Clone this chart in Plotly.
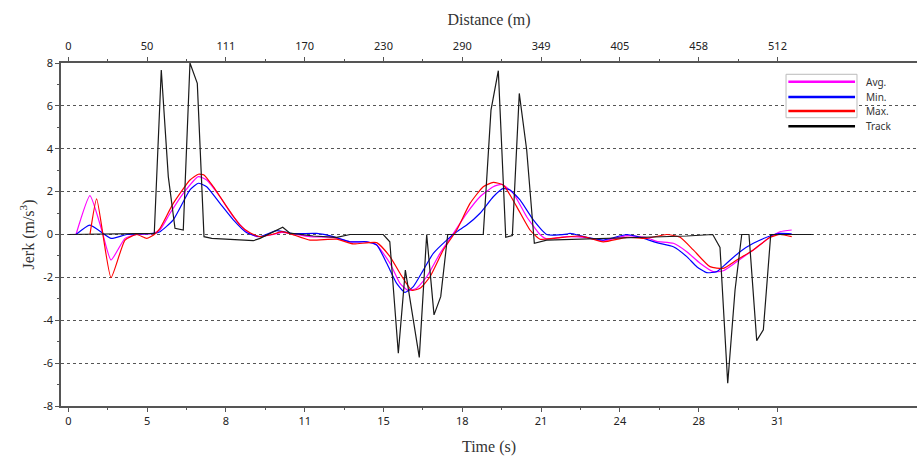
import plotly.graph_objects as go

# ---- axis labels ----
time_ticks = [0, 10, 20, 30, 40, 50, 60, 70, 80, 90]
time_labels = ["0", "5", "8", "11", "15", "18", "21", "24", "28", "31"]
dist_labels = ["0", "50", "111", "170", "230", "290", "349", "405", "458", "512"]
minor_ticks = [5, 15, 25, 35, 45, 55, 65, 75, 85]
jerk_ticks = [-8, -6, -4, -2, 0, 2, 4, 6, 8]
jerk_labels = ["-8", "-6", "-4", "-2", "0", "2", "4", "6", "8"]

# ---- Track (black) ----
track_x = [0.0, 10.91, 11.80, 12.69, 13.54, 14.59, 15.44, 16.37, 17.22, 18.20, 23.48, 24.33,
           27.21, 28.13, 31.09, 34.06, 35.75, 39.97, 40.80, 41.88, 42.77, 44.54, 45.48,
           46.41, 47.26, 48.15, 52.66, 53.64, 54.57, 55.51, 56.35, 57.23, 58.17, 59.14,
           60.71, 64.94, 70.01, 75.09, 78.48, 81.78, 82.70, 83.68, 84.61, 85.46, 86.38,
           87.36, 88.20, 89.14, 94.54]
track_y = [0.0, 0.05, 7.67, 2.7, 0.29, 0.21, 8.0, 7.05, -0.1, -0.18, -0.29, -0.18,
           0.34, 0.06, -0.07, -0.13, 0.0, 0.0, -0.34, -5.54, -1.66, -5.73, 0.0,
           -3.75, -2.9, 0.0, 0.0, 5.8, 7.64, -0.13, -0.05, 6.58, 3.94, -0.41,
           -0.26, -0.22, -0.16, -0.1, -0.07, 0.0, -0.6, -6.94, -2.59, 0.0, 0.0,
           -4.95, -4.45, 0.0, 0.0]

# ---- Avg. (magenta) ----
avg_x = [0.98, 2.75, 4.24, 5.42, 7.20, 8.68, 10.79, 11.64, 12.91, 14.59, 16.50, 17.56,
         19.25, 20.94, 22.64, 23.91, 26.02, 27.12, 28.55, 30.67, 33.63, 35.75, 37.87,
         39.14, 40.82, 42.09, 43.15, 44.21, 45.48, 47.17, 48.86, 50.56, 52.25, 53.93,
         55.00, 56.47, 58.17, 59.86, 60.71, 63.25, 65.79, 67.89, 70.86, 73.40, 74.67,
         76.78, 78.48, 80.17, 81.85, 83.12, 84.82, 86.93, 89.05, 90.32, 91.80]
avg_y = [0.0, 1.81, 0.21, -1.19, -0.18, 0.0, 0.05, 0.22, 0.99, 1.92, 2.7, 2.54,
         1.76, 0.83, 0.13, -0.1, 0.0, 0.1, 0.02, -0.1, -0.14, -0.34, -0.34,
         -0.49, -1.34, -2.28, -2.62, -2.51, -1.97, -0.88, 0.05, 0.99, 1.76, 2.23,
         2.34, 1.92, 0.83, 0.0, -0.21, -0.1, -0.15, -0.3, -0.05, -0.15, -0.32,
         -0.41, -0.8, -1.34, -1.73, -1.69, -1.27, -0.72, -0.13, 0.13, 0.21]

# ---- Min. (blue) ----
min_x = [0.98, 2.75, 5.42, 7.41, 10.79, 11.64, 13.32, 15.44, 16.50, 17.56, 19.25, 20.94,
         22.64, 24.33, 26.45, 28.55, 31.52, 33.63, 35.75, 37.87, 39.14, 40.41, 41.67,
         42.73, 43.78, 45.05, 46.32, 48.02, 49.29, 50.56, 52.25, 53.93, 55.20, 56.05,
         57.32, 59.01, 60.71, 63.25, 63.67, 65.79, 67.89, 70.86, 72.55, 74.67, 76.78,
         78.48, 79.75, 81.02, 82.29, 83.55, 85.24, 86.93, 89.05, 90.32, 91.80]
min_y = [0.0, 0.44, -0.18, 0.0, 0.05, 0.13, 0.68, 2.08, 2.39, 2.23, 1.45, 0.68,
         0.08, -0.1, 0.18, 0.04, 0.05, -0.1, -0.34, -0.34, -0.49, -1.34, -2.28,
         -2.7, -2.43, -1.66, -0.88, -0.26, 0.13, 0.44, 0.99, 1.76, 2.15, 2.08,
         1.61, 0.68, 0.0, 0.02, 0.05, -0.13, -0.26, 0.0, -0.13, -0.38, -0.57,
         -1.03, -1.5, -1.78, -1.73, -1.34, -0.8, -0.41, -0.07, 0.05, 0.03]

# ---- Max. (red) ----
max_x = [2.75, 3.60, 5.42, 7.20, 8.68, 9.95, 10.91, 11.64, 13.32, 15.44, 16.50, 17.22,
         18.40, 20.10, 21.79, 23.06, 24.33, 26.02, 27.08, 28.13, 30.67, 34.06, 36.17,
         39.14, 40.82, 42.09, 43.58, 44.63, 45.90, 47.59, 49.29, 50.98, 52.66, 53.93,
         55.20, 56.90, 58.59, 59.86, 61.55, 64.52, 65.79, 67.89, 70.86, 73.40, 75.94,
         77.64, 79.31, 81.43, 83.12, 84.82, 86.93, 89.05, 90.32, 91.80]
max_y = [0.0, 1.66, -2.01, -0.26, 0.0, -0.18, 0.0, 0.29, 1.45, 2.54, 2.81, 2.78,
         2.23, 1.3, 0.44, 0.08, -0.1, 0.02, 0.13, 0.04, -0.26, -0.22, -0.44,
         -0.38, -1.03, -1.81, -2.6, -2.51, -1.97, -0.72, 0.21, 1.45, 2.23, 2.43,
         2.31, 1.3, 0.21, -0.22, -0.18, -0.07, -0.13, -0.34, -0.13, -0.18, 0.0,
         -0.13, -0.72, -1.5, -1.58, -1.19, -0.72, -0.13, 0.0, -0.1]

X_RANGE = [-0.926, 107.7]

fig = go.Figure()
# Track drawn on the top (distance) axis, which shares the same range as the time axis
fig.add_trace(go.Scatter(x=track_x, y=track_y, mode="lines", name="Track", xaxis="x2",
                         line=dict(color="#1a1a1a", width=1.2), showlegend=False))
fig.add_trace(go.Scatter(x=avg_x, y=avg_y, mode="lines", name="Avg.",
                         line=dict(color="#ff00ff", width=1.2, shape="spline", smoothing=0.5),
                         showlegend=False))
fig.add_trace(go.Scatter(x=min_x, y=min_y, mode="lines", name="Min.",
                         line=dict(color="#0000ff", width=1.2, shape="spline", smoothing=0.5),
                         showlegend=False))
fig.add_trace(go.Scatter(x=max_x, y=max_y, mode="lines", name="Max.",
                         line=dict(color="#ff0000", width=1.2, shape="spline", smoothing=0.5),
                         showlegend=False))

tickfont = dict(family="Noto Sans", size=11, color="#222")
titlefont = dict(family="Liberation Serif", size=16, color="#333")
axis_line = dict(showline=True, linecolor="#555", linewidth=1.5, automargin=False)

fig.update_layout(
    width=917, height=457,
    margin=dict(l=61, r=0, t=63, b=51),
    paper_bgcolor="white", plot_bgcolor="white",
    xaxis=dict(range=X_RANGE, tickmode="array", tickvals=time_ticks, ticktext=time_labels,
               ticks="outside", ticklen=4, tickcolor="#555", tickfont=tickfont,
               showgrid=False, zeroline=False,
               minor=dict(tickmode="array", tickvals=minor_ticks, ticks="outside",
                          ticklen=2, tickcolor="#555", showgrid=False),
               title=dict(text="Time (s)", font=titlefont, standoff=14),
               **axis_line),
    xaxis2=dict(range=X_RANGE, overlaying="x", side="top", anchor="y",
                tickmode="array", tickvals=time_ticks, ticktext=dist_labels,
                ticks="outside", ticklen=4, tickcolor="#555", tickfont=tickfont,
                ticklabelstandoff=3,
                showgrid=False, zeroline=False,
                minor=dict(tickmode="array", tickvals=minor_ticks, ticks="outside",
                           ticklen=2, tickcolor="#555", showgrid=False),
                title=dict(text="Distance (m)", font=titlefont, standoff=8),
                **axis_line),
    yaxis=dict(range=[-8, 8], tickmode="array", tickvals=jerk_ticks, ticktext=jerk_labels,
               ticks="outside", ticklen=4, tickcolor="#555", tickfont=tickfont,
               showgrid=True, gridcolor="#555", griddash="dot", gridwidth=1,
               zeroline=False,
               minor=dict(tickmode="linear", tick0=-7, dtick=2, ticks="outside",
                          ticklen=2, tickcolor="#555", showgrid=False),
               title=dict(text="Jerk (m/s<sup>3</sup>)", font=titlefont, standoff=5),
               **axis_line),
)

# ---- manual legend (long line samples, box around the first three entries) ----
legend_items = [("Avg.", "#ff00ff", 0.9455), ("Min.", "#0000ff", 0.9009),
                ("Max.", "#ff0000", 0.8601), ("Track", "#000000", 0.8155)]
fig.add_shape(type="rect", xref="paper", yref="paper", x0=0.8470, x1=0.9299,
              y0=0.8405, y1=0.9671, line=dict(color="#bbbbbb", width=1),
              fillcolor="white", layer="above")
for name, col, yy in legend_items:
    fig.add_shape(type="line", xref="paper", yref="paper", x0=0.8497, x1=0.9276,
                  y0=yy, y1=yy, line=dict(color=col, width=2.5), layer="above")
    fig.add_annotation(text=name, xref="paper", yref="paper", x=0.9380, y=yy,
                       xanchor="left", yanchor="middle", showarrow=False,
                       font=dict(family="Noto Sans", size=10, color="#333"))

fig.write_html("out.html", config={"displayModeBar": False},
               post_script="document.body.style.margin='0';")
